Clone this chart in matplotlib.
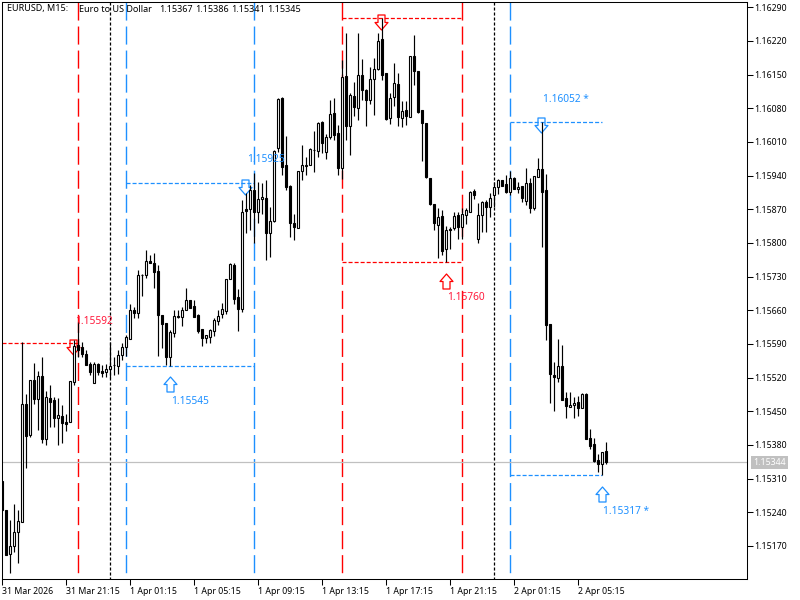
import numpy as np
import matplotlib
matplotlib.use('Agg')
import matplotlib.pyplot as plt
from matplotlib.path import Path
from matplotlib.transforms import offset_copy

plt.rcParams['font.family'] = ['Noto Sans', 'DejaVu Sans']
plt.rcParams['lines.scale_dashes'] = False

opens = [1.15305, 1.15244, 1.15153, 1.15170, 1.15198, 1.15220, 1.15466, 1.15400, 1.15515, 1.15476,
         1.15524, 1.15393, 1.15477, 1.15473, 1.15436, 1.15440, 1.15427, 1.15428, 1.15511, 1.15587,
         1.15583, 1.15569, 1.15548, 1.15509, 1.15548, 1.15533, 1.15531, 1.15538, 1.15546, 1.15545,
         1.15567, 1.15584, 1.15601, 1.15660, 1.15655, 1.15734, 1.15734, 1.15762, 1.15759, 1.15741,
         1.15650, 1.15633, 1.15563, 1.15613, 1.15647, 1.15646, 1.15660, 1.15681, 1.15669, 1.15650,
         1.15621, 1.15603, 1.15605, 1.15616, 1.15638, 1.15653, 1.15659, 1.15725, 1.15754, 1.15687,
         1.15662, 1.15870, 1.15870, 1.15910, 1.15865, 1.15891, 1.15893, 1.15820, 1.15846, 1.15998,
         1.16101, 1.15961, 1.15918, 1.15841, 1.15830, 1.15950, 1.15960, 1.15961, 1.15994, 1.15992,
         1.16051, 1.15990, 1.16021, 1.16071, 1.16028, 1.15955, 1.16146, 1.16042, 1.16105, 1.16080,
         1.16150, 1.16118, 1.16098, 1.16140, 1.16161, 1.16223, 1.16153, 1.16059, 1.16104, 1.16130,
         1.16060, 1.16076, 1.16062, 1.16189, 1.16157, 1.16076, 1.16049, 1.15934, 1.15881, 1.15838,
         1.15856, 1.15787, 1.15829, 1.15830, 1.15858, 1.15833, 1.15858, 1.15865, 1.15908, 1.15809,
         1.15859, 1.15884, 1.15875, 1.15900, 1.15917, 1.15930, 1.15922, 1.15906, 1.15934, 1.15912,
         1.15918, 1.15888, 1.15924, 1.15873, 1.15937, 1.15953, 1.15909, 1.15631, 1.15526, 1.15520,
         1.15545, 1.15477, 1.15459, 1.15463, 1.15470, 1.15457, 1.15485, 1.15395, 1.15381, 1.15348,
         1.15341, 1.15367]
highs = [1.15305, 1.15244, 1.15224, 1.15257, 1.15244, 1.15593, 1.15486, 1.15515, 1.15551, 1.15534,
         1.15562, 1.15493, 1.15505, 1.15480, 1.15477, 1.15462, 1.15445, 1.15513, 1.15598, 1.15636,
         1.15593, 1.15577, 1.15553, 1.15553, 1.15551, 1.15546, 1.15549, 1.15593, 1.15563, 1.15577,
         1.15592, 1.15608, 1.15672, 1.15667, 1.15743, 1.15736, 1.15785, 1.15775, 1.15778, 1.15754,
         1.15650, 1.15633, 1.15619, 1.15660, 1.15660, 1.15667, 1.15707, 1.15681, 1.15681, 1.15653,
         1.15622, 1.15608, 1.15621, 1.15643, 1.15660, 1.15674, 1.15724, 1.15759, 1.15759, 1.15705,
         1.15889, 1.15903, 1.15920, 1.15945, 1.15927, 1.15924, 1.15931, 1.15875, 1.15993, 1.16101,
         1.16103, 1.16022, 1.15920, 1.15861, 1.15949, 1.16004, 1.15979, 1.15997, 1.16033, 1.16052,
         1.16054, 1.16026, 1.16097, 1.16101, 1.16045, 1.16180, 1.16236, 1.16111, 1.16135, 1.16236,
         1.16182, 1.16119, 1.16166, 1.16184, 1.16236, 1.16267, 1.16153, 1.16111, 1.16173, 1.16153,
         1.16094, 1.16094, 1.16189, 1.16232, 1.16157, 1.16076, 1.16050, 1.15934, 1.15881, 1.15872,
         1.15868, 1.15836, 1.15834, 1.15865, 1.15865, 1.15872, 1.15872, 1.15908, 1.15913, 1.15882,
         1.15887, 1.15889, 1.15903, 1.15927, 1.15932, 1.15931, 1.15941, 1.15950, 1.15936, 1.15927,
         1.15918, 1.15955, 1.15934, 1.15940, 1.15976, 1.16052, 1.15943, 1.15632, 1.15552, 1.15600,
         1.15587, 1.15489, 1.15489, 1.15480, 1.15482, 1.15487, 1.15487, 1.15414, 1.15395, 1.15362,
         1.15366, 1.15386]
lows = [1.15242, 1.15151, 1.15113, 1.15158, 1.15135, 1.15220, 1.15331, 1.15397, 1.15466, 1.15411,
        1.15385, 1.15380, 1.15418, 1.15418, 1.15380, 1.15383, 1.15409, 1.15428, 1.15504, 1.15563,
        1.15562, 1.15547, 1.15525, 1.15509, 1.15525, 1.15521, 1.15522, 1.15520, 1.15525, 1.15527,
        1.15556, 1.15565, 1.15601, 1.15644, 1.15644, 1.15690, 1.15727, 1.15759, 1.15707, 1.15565,
        1.15581, 1.15547, 1.15545, 1.15605, 1.15643, 1.15627, 1.15660, 1.15664, 1.15646, 1.15613,
        1.15586, 1.15592, 1.15591, 1.15606, 1.15629, 1.15643, 1.15652, 1.15724, 1.15673, 1.15617,
        1.15657, 1.15820, 1.15827, 1.15799, 1.15841, 1.15861, 1.15764, 1.15771, 1.15844, 1.15990,
        1.15941, 1.15910, 1.15813, 1.15805, 1.15830, 1.15931, 1.15941, 1.15961, 1.15948, 1.15979,
        1.15986, 1.15974, 1.16017, 1.16014, 1.15941, 1.15933, 1.16013, 1.15983, 1.16064, 1.16056,
        1.16098, 1.16042, 1.16089, 1.16066, 1.16159, 1.16139, 1.16056, 1.16047, 1.16085, 1.16042,
        1.16040, 1.16045, 1.16062, 1.16128, 1.16071, 1.15971, 1.15934, 1.15879, 1.15827, 1.15768,
        1.15775, 1.15760, 1.15787, 1.15827, 1.15808, 1.15809, 1.15839, 1.15864, 1.15892, 1.15800,
        1.15823, 1.15823, 1.15854, 1.15875, 1.15901, 1.15918, 1.15903, 1.15899, 1.15911, 1.15903,
        1.15885, 1.15878, 1.15863, 1.15869, 1.15937, 1.15792, 1.15598, 1.15468, 1.15451, 1.15511,
        1.15473, 1.15436, 1.15458, 1.15435, 1.15441, 1.15456, 1.15393, 1.15372, 1.15345, 1.15324,
        1.15317, 1.15341]
closes = [1.15244, 1.15151, 1.15170, 1.15198, 1.15222, 1.15466, 1.15399, 1.15515, 1.15476, 1.15523,
          1.15393, 1.15479, 1.15469, 1.15436, 1.15443, 1.15426, 1.15424, 1.15513, 1.15586, 1.15578,
          1.15569, 1.15547, 1.15531, 1.15549, 1.15531, 1.15530, 1.15537, 1.15545, 1.15547, 1.15566,
          1.15583, 1.15604, 1.15660, 1.15655, 1.15734, 1.15733, 1.15762, 1.15759, 1.15740, 1.15650,
          1.15632, 1.15563, 1.15615, 1.15648, 1.15646, 1.15660, 1.15682, 1.15665, 1.15646, 1.15617,
          1.15603, 1.15608, 1.15618, 1.15639, 1.15649, 1.15662, 1.15724, 1.15756, 1.15683, 1.15662,
          1.15864, 1.15867, 1.15910, 1.15865, 1.15891, 1.15895, 1.15820, 1.15846, 1.15991, 1.16099,
          1.15958, 1.15917, 1.15842, 1.15834, 1.15949, 1.15961, 1.15961, 1.15995, 1.15993, 1.16049,
          1.16007, 1.16020, 1.16069, 1.16025, 1.15956, 1.16144, 1.16042, 1.16107, 1.16083, 1.16150,
          1.16117, 1.16098, 1.16140, 1.16161, 1.16220, 1.16150, 1.16058, 1.16101, 1.16133, 1.16062,
          1.16074, 1.16064, 1.16189, 1.16157, 1.16073, 1.16050, 1.15936, 1.15881, 1.15841, 1.15853,
          1.15784, 1.15827, 1.15826, 1.15856, 1.15834, 1.15861, 1.15868, 1.15906, 1.15900, 1.15859,
          1.15884, 1.15874, 1.15894, 1.15917, 1.15930, 1.15918, 1.15906, 1.15934, 1.15912, 1.15917,
          1.15893, 1.15924, 1.15873, 1.15940, 1.15953, 1.15906, 1.15630, 1.15527, 1.15522, 1.15545,
          1.15474, 1.15461, 1.15464, 1.15468, 1.15457, 1.15485, 1.15393, 1.15378, 1.15347, 1.15341,
          1.15366, 1.15345]

price_ticks = [1.16290, 1.16220, 1.16150, 1.16080, 1.16010, 1.15940, 1.15870, 1.15800, 1.15730,
               1.15660, 1.15590, 1.15520, 1.15450, 1.15380, 1.15310, 1.15240, 1.15170]
time_ticks = [0, 16, 32, 48, 64, 80, 96, 112, 128, 144]
time_labels = ['31 Mar 2026', '31 Mar 21:15', '1 Apr 01:15', '1 Apr 05:15', '1 Apr 09:15',
               '1 Apr 13:15', '1 Apr 17:15', '1 Apr 21:15', '2 Apr 01:15', '2 Apr 05:15']

red_lines = [19, 85, 115]
blue_lines = [31, 63, 127]
black_lines = [27, 123]

# start bar, end bar, price, colour
levels_from = [0, 31, 31, 85, 85, 127, 127]
levels_to = [19, 63, 63, 115, 115, 150, 150]
levels_price = [1.15592, 1.15925, 1.15545, 1.16267, 1.15760, 1.16052, 1.15317]
levels_col = ['red', 'blue', 'blue', 'red', 'red', 'blue', 'blue']

up_bars = [42, 111, 150]
up_prices = [1.15545, 1.15760, 1.15317]
up_cols = ['blue', 'red', 'blue']
down_bars = [18, 61, 95, 135]
down_prices = [1.15592, 1.15925, 1.16267, 1.16052]
down_cols = ['red', 'blue', 'red', 'blue']

header_values = ['1.15367', '1.15386', '1.15341', '1.15345']

last_price = 1.15344
RED = '#FF0000'
BLUE = '#1E90FF'
cols = {'red': RED, 'blue': BLUE}


def px(x, y):
    return x / 800, 1 - y / 600


fig = plt.figure(figsize=(8, 6), dpi=100)
ax = fig.add_axes([2.3 / 800, 1 - 579.3 / 600, 745 / 800, 577 / 600])
# 4 pixels per bar, about 48100 pixels per unit of price
ax.set_xlim(0, 745 / 4)
ax.set_ylim(1.16290 - (579.3 - 7.2) / 48100, 1.16290 + (7.2 - 2.3) / 48100)

for b in red_lines:
    ax.plot([b, b], ax.get_ylim()[::-1], color=RED, lw=1, ls=(0, (13, 4.3)), zorder=1)
for b in blue_lines:
    ax.plot([b, b], ax.get_ylim()[::-1], color=BLUE, lw=1, ls=(0, (13, 4.3)), zorder=1)
for b in black_lines:
    ax.plot([b, b], ax.get_ylim()[::-1], color='black', lw=0.9, ls=(0, (2.2, 1.4)), zorder=1)

for a, b, p, c in zip(levels_from, levels_to, levels_price, levels_col):
    ax.plot([a, b], [p, p], color=cols[c], lw=0.9, ls=(0, (2.9, 1.45)), zorder=1)

ax.axhline(last_price, color='#C0C0C0', lw=0.9, zorder=1)

# hollow arrows, the candles run over them
up_arrow = Path([(-3.5, -7.5), (3.5, -7.5), (3.5, 0), (6.5, 0), (0, 7.5), (-6.5, 0), (-3.5, 0), (-3.5, -7.5)],
                closed=True)
down_arrow = Path([(-3.5, 7.5), (3.5, 7.5), (3.5, 0), (6.5, 0), (0, -7.5), (-6.5, 0), (-3.5, 0), (-3.5, 7.5)],
                  closed=True)
for b, p, c in zip(up_bars, up_prices, up_cols):
    tr = offset_copy(ax.transData, fig=fig, x=0, y=-18.5, units='dots')
    ax.plot([b], [p], marker=up_arrow, ms=10.8, mfc='none', mec=cols[c], mew=0.9, transform=tr, zorder=2)
for b, p, c in zip(down_bars, down_prices, down_cols):
    tr = offset_copy(ax.transData, fig=fig, x=-1.5, y=-3.8, units='dots')
    ax.plot([b], [p], marker=down_arrow, ms=10.8, mfc='none', mec=cols[c], mew=0.9, transform=tr, zorder=2)

o = np.array(opens)
c = np.array(closes)
bars = np.arange(len(o))
wicks = ax.vlines(bars, lows, highs, color='black', lw=0.85, zorder=3)
wicks.set_snap(True)
fill = ['white' if ci > oi else 'black' for oi, ci in zip(o, c)]
ax.bar(bars, np.abs(c - o), bottom=np.minimum(o, c), width=0.5, color=fill, edgecolor='black',
       linewidth=0.8, zorder=4)

ax.yaxis.tick_right()
ax.set_yticks(price_ticks)
ax.set_yticklabels(['%.5f' % p for p in price_ticks], fontsize=6.3, color='black')
ax.set_xticks(time_ticks)
ax.set_xticklabels(time_labels, fontsize=6.3, ha='left')
ax.tick_params(axis='y', length=4, width=0.75, pad=1)
ax.tick_params(axis='x', length=4, width=0.75, pad=1.5)
for s in ax.spines.values():
    s.set_linewidth(0.75)

# header and the value labels sit on top of everything
head_fs = 6.5
fig.text(*px(7, 9), 'EURUSD, M15:', fontsize=head_fs, va='center')
fig.text(*px(79, 9), 'Euro to US Dollar', fontsize=head_fs, va='center')
for xp, v in zip([159, 195, 231, 267], header_values):
    fig.text(*px(xp, 9), v, fontsize=head_fs, va='center')

label_fs = 7.3
fig.text(*px(75, 321), '1.15592', color='#FF1A3C', fontsize=label_fs, va='center')
fig.text(*px(171, 401), '1.15545', color=BLUE, fontsize=label_fs, va='center')
fig.text(*px(246.7, 160), '1.15925', color=BLUE, fontsize=label_fs, va='center')
fig.text(*px(446.7, 297), '1.15760', color='#FF1A3C', fontsize=label_fs, va='center')
fig.text(*px(543, 99), '1.16052 *', color=BLUE, fontsize=label_fs, va='center')
fig.text(*px(602.7, 511), '1.15317 *', color=BLUE, fontsize=label_fs, va='center')

fig.text(*px(769.5, 462.3), '%.5f' % last_price, color='white', fontsize=6.3, va='center', ha='center',
         bbox=dict(boxstyle='square,pad=0.2', fc='#C0C0C0', ec='none'))

fig.savefig('out.png', dpi=100)
